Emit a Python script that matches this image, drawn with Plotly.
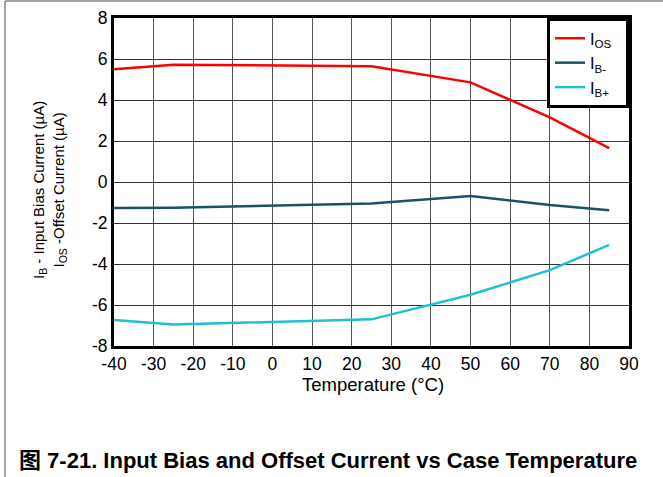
import plotly.graph_objects as go

temps = [-40, -25, 25, 50, 70, 85]
i_os = [5.5, 5.72, 5.65, 4.86, 3.15, 1.65]
i_b_minus = [-1.27, -1.25, -1.05, -0.68, -1.12, -1.38]
i_b_plus = [-6.73, -6.95, -6.7, -5.5, -4.3, -3.07]

x_ticks = list(range(-40, 91, 10))
y_ticks = list(range(-8, 9, 2))

FONT = "Liberation Sans, Arial, Noto Sans CJK SC, sans-serif"
PAD = "&nbsp;&nbsp;"

fig = go.Figure()
fig.add_trace(go.Scatter(x=temps, y=i_os, mode="lines", name="I<sub>OS</sub>" + PAD,
                         line=dict(color="#ff0000", width=2.5)))
fig.add_trace(go.Scatter(x=temps, y=i_b_minus, mode="lines", name="I<sub>B-</sub>" + PAD,
                         line=dict(color="#1a5366", width=2.5)))
fig.add_trace(go.Scatter(x=temps, y=i_b_plus, mode="lines", name="I<sub>B+</sub>" + PAD,
                         line=dict(color="#1ec0d2", width=2.5)))

L, R, T, B = 114, 34, 18, 131
W, H = 663, 477
pw, ph = W - L - R, H - T - B


def px(xp):
    return (xp - L) / pw


def py(yp):
    return 1 - (yp - T) / ph


fig.update_layout(
    width=W, height=H,
    margin=dict(l=L, r=R, t=T, b=B, autoexpand=False),
    paper_bgcolor="white", plot_bgcolor="white",
    font=dict(family=FONT, size=18, color="black"),
    showlegend=True,
    legend=dict(x=1, y=1, xanchor="right", yanchor="top",
                bgcolor="white", bordercolor="black", borderwidth=3,
                font=dict(size=16.5), tracegroupgap=0),
    xaxis=dict(range=[-40, 90], tickvals=x_ticks, ticktext=[str(v) for v in x_ticks],
               showgrid=True, gridcolor="#555555", gridwidth=1,
               showline=True, linecolor="black", linewidth=3, mirror=True,
               zeroline=False, ticks="", tickfont=dict(size=17.5)),
    yaxis=dict(range=[-8, 8], tickvals=y_ticks, ticktext=[str(v) for v in y_ticks],
               showgrid=True, gridcolor="#333333", gridwidth=1,
               showline=True, linecolor="black", linewidth=3, mirror=True,
               zeroline=False, ticks="", tickfont=dict(size=17.5)),
)

# axis titles
fig.add_annotation(text="Temperature (°C)", xref="paper", yref="paper",
                   x=px(372.5), y=py(384), xanchor="center", yanchor="middle",
                   showarrow=False, font=dict(size=18.5, family=FONT, color="black"))
fig.add_annotation(text="I<sub>B</sub> - Input Bias Current (µA)<br>I<sub>OS</sub> -Offset Current (µA)",
                   xref="paper", yref="paper", x=px(49), y=py(190),
                   xanchor="center", yanchor="middle", textangle=-90,
                   showarrow=False, font=dict(size=15, family=FONT, color="black"))

# page frame lines (left and top)
fig.add_shape(type="line", xref="paper", yref="paper",
              x0=px(5), x1=px(5), y0=py(480), y1=py(1),
              line=dict(color="#888888", width=1.5))
fig.add_shape(type="line", xref="paper", yref="paper",
              x0=px(5), x1=px(666), y0=py(1), y1=py(1),
              line=dict(color="#888888", width=1.5))

fig.add_annotation(text="<b>图 7-21. Input Bias and Offset Current vs Case Temperature</b>",
                   xref="paper", yref="paper", x=px(328), y=py(460),
                   xanchor="center", yanchor="middle", showarrow=False,
                   font=dict(size=22, family=FONT, color="black"))

fig.write_html("out.html", config={"displayModeBar": False},
               post_script="document.body.style.margin='0';")
